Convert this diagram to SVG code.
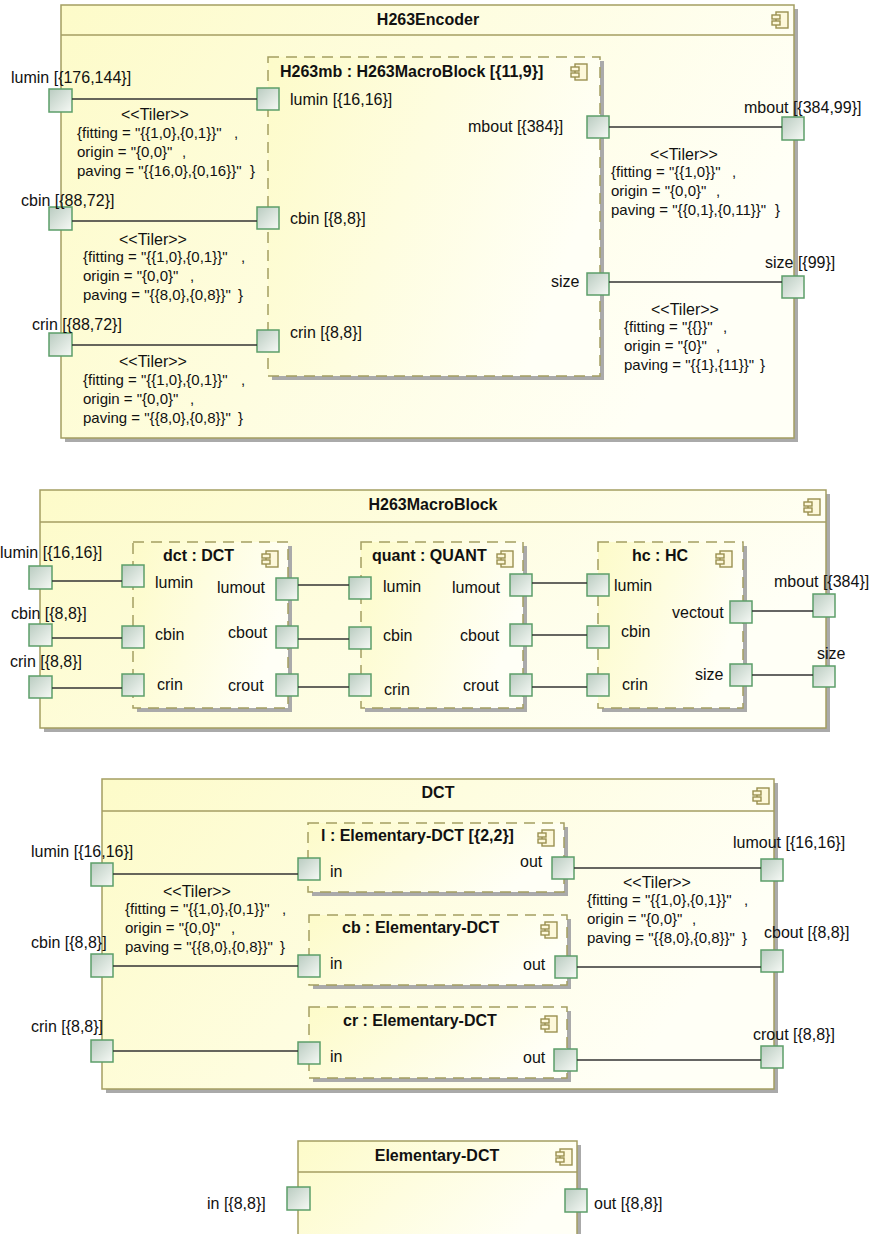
<svg xmlns="http://www.w3.org/2000/svg" width="873" height="1234" viewBox="0 0 873 1234">
<defs>
<linearGradient id="gf" x1="0" y1="0" x2="1" y2="0.35">
<stop offset="0" stop-color="#fdfbc9"/>
<stop offset="1" stop-color="#fffff6"/>
</linearGradient>
<linearGradient id="gp" x1="0" y1="0" x2="1" y2="1">
<stop offset="0" stop-color="#b9cbc0"/>
<stop offset="1" stop-color="#f7faf6"/>
</linearGradient>
<symbol id="ico" viewBox="0 0 18 18" width="18" height="18">
<rect x="5" y="1" width="12" height="16" fill="#fdf8da" stroke="#9a9050" stroke-width="1.4"/>
<rect x="1" y="4" width="8" height="4" fill="#fdf8da" stroke="#9a9050" stroke-width="1.4"/>
<rect x="1" y="10" width="8" height="4" fill="#fdf8da" stroke="#9a9050" stroke-width="1.4"/>
</symbol>
</defs>
<style>
text{font-family:"Liberation Sans",Arial,Helvetica,sans-serif;font-size:16px;fill:#111}
.t{font-weight:bold}
.c{text-anchor:middle}
.v{font-size:15px}
.sh{fill:#aaaaaa}
.fr{fill:url(#gf);stroke:#a49e62;stroke-width:1.5}
.pt{fill:url(#gf);stroke:#a49e62;stroke-width:1.5;stroke-dasharray:11 7}
.hd{fill:none;stroke:#a49e62;stroke-width:1.5}
.p{fill:url(#gp);stroke:#5c9e69;stroke-width:1.5}
.ln{stroke:#333;stroke-width:1.3}
</style>
<rect width="873" height="1234" fill="#ffffff"/>

<!-- ===== Diagram 1: H263Encoder ===== -->
<g id="H263Encoder">
<rect class="sh" x="65" y="9" width="733" height="433"/>
<rect class="fr" x="61" y="5" width="733" height="433"/>
<line class="hd" x1="61" y1="35" x2="794" y2="35"/>
<text class="t c" x="428" y="25">H263Encoder</text>
<use href="#ico" x="771" y="11"/>
</g>
<g id="H263mb">
<rect class="sh" x="272" y="61" width="332" height="319"/>
<rect class="pt" x="268" y="57" width="332" height="319"/>
<text class="t" x="280" y="77">H263mb : H263MacroBlock [{11,9}]</text>
<use href="#ico" x="570" y="63"/>
</g>
<g id="enc-ports">
<rect class="p" x="49" y="89" width="23" height="23"/>
<text x="11" y="83">lumin [{176,144}]</text>
<rect class="p" x="257" y="88" width="22" height="22"/>
<text x="290" y="105">lumin [{16,16}]</text>
<rect class="p" x="49" y="207" width="23" height="23"/>
<text x="21" y="206">cbin [{88,72}]</text>
<rect class="p" x="257" y="207" width="22" height="22"/>
<text x="290" y="224">cbin [{8,8}]</text>
<rect class="p" x="49" y="333" width="23" height="23"/>
<text x="32" y="330">crin [{88,72}]</text>
<rect class="p" x="257" y="330" width="22" height="22"/>
<text x="290" y="338">crin [{8,8}]</text>
<rect class="p" x="587" y="116" width="22" height="22"/>
<text x="468" y="132">mbout [{384}]</text>
<rect class="p" x="782" y="117" width="22" height="23"/>
<text x="744" y="113">mbout [{384,99}]</text>
<rect class="p" x="587" y="273" width="22" height="22"/>
<text x="551" y="287">size</text>
<rect class="p" x="782" y="276" width="22" height="22"/>
<text x="765" y="268">size [{99}]</text>
</g>

<!-- ===== Diagram 2: H263MacroBlock ===== -->
<g id="H263MacroBlock">
<rect class="sh" x="44" y="494" width="786" height="238"/>
<rect class="fr" x="40" y="490" width="786" height="238"/>
<line class="hd" x1="40" y1="522" x2="826" y2="522"/>
<text class="t c" x="433" y="510">H263MacroBlock</text>
<use href="#ico" x="803" y="498"/>
</g>
<g id="dct">
<rect class="sh" x="137" y="546" width="155" height="166"/>
<rect class="pt" x="133" y="542" width="155" height="166"/>
<text class="t" x="163" y="561">dct : DCT</text>
<use href="#ico" x="261" y="550"/>
<rect class="p" x="122" y="565" width="22" height="22"/>
<text x="155" y="588">lumin</text>
<rect class="p" x="122" y="626" width="22" height="22"/>
<text x="155" y="640">cbin</text>
<rect class="p" x="122" y="674" width="22" height="22"/>
<text x="157" y="690">crin</text>
<rect class="p" x="276" y="578" width="22" height="22"/>
<text x="217" y="593">lumout</text>
<rect class="p" x="276" y="626" width="22" height="22"/>
<text x="228" y="638">cbout</text>
<rect class="p" x="276" y="674" width="22" height="22"/>
<text x="228" y="691">crout</text>
</g>
<g id="quant">
<rect class="sh" x="365" y="546" width="162" height="166"/>
<rect class="pt" x="361" y="542" width="162" height="166"/>
<text class="t" x="372" y="561">quant : QUANT</text>
<use href="#ico" x="496" y="550"/>
<rect class="p" x="349" y="577" width="22" height="22"/>
<text x="383" y="592">lumin</text>
<rect class="p" x="349" y="627" width="22" height="22"/>
<text x="383" y="641">cbin</text>
<rect class="p" x="349" y="674" width="22" height="22"/>
<text x="384" y="695">crin</text>
<rect class="p" x="510" y="574" width="22" height="22"/>
<text x="452" y="593">lumout</text>
<rect class="p" x="510" y="624" width="22" height="22"/>
<text x="460" y="641">cbout</text>
<rect class="p" x="510" y="674" width="22" height="22"/>
<text x="463" y="691">crout</text>
</g>
<g id="hc">
<rect class="sh" x="602" y="546" width="145" height="166"/>
<rect class="pt" x="598" y="542" width="145" height="166"/>
<text class="t" x="632" y="561">hc : HC</text>
<use href="#ico" x="715" y="550"/>
<rect class="p" x="587" y="574" width="22" height="22"/>
<text x="614" y="591">lumin</text>
<rect class="p" x="587" y="626" width="22" height="22"/>
<text x="621" y="637">cbin</text>
<rect class="p" x="587" y="674" width="22" height="22"/>
<text x="622" y="690">crin</text>
<rect class="p" x="730" y="601" width="22" height="22"/>
<text x="672" y="618">vectout</text>
<rect class="p" x="730" y="664" width="22" height="22"/>
<text x="695" y="680">size</text>
</g>
<g id="mb-ports">
<rect class="p" x="29" y="566" width="23" height="23"/>
<text x="0" y="558">lumin [{16,16}]</text>
<rect class="p" x="29" y="624" width="23" height="22"/>
<text x="11" y="619">cbin [{8,8}]</text>
<rect class="p" x="29" y="676" width="23" height="22"/>
<text x="10" y="667">crin [{8,8}]</text>
<rect class="p" x="813" y="594" width="22" height="23"/>
<text x="774" y="587">mbout [{384}]</text>
<rect class="p" x="813" y="666" width="22" height="21"/>
<text x="817" y="659">size</text>
</g>

<!-- ===== Diagram 3: DCT ===== -->
<g id="DCT">
<rect class="sh" x="106" y="783" width="672" height="310"/>
<rect class="fr" x="102" y="779" width="672" height="310"/>
<line class="hd" x1="102" y1="811" x2="774" y2="811"/>
<text class="t c" x="438" y="798">DCT</text>
<use href="#ico" x="752" y="787"/>
</g>
<g id="l">
<rect class="sh" x="312" y="827" width="256" height="69"/>
<rect class="pt" x="308" y="823" width="256" height="69"/>
<text class="t" x="321" y="841">l : Elementary-DCT [{2,2}]</text>
<use href="#ico" x="537" y="829"/>
<rect class="p" x="298" y="858" width="22" height="22"/>
<text x="330" y="877">in</text>
<rect class="p" x="552" y="857" width="22" height="22"/>
<text x="520" y="867">out</text>
</g>
<g id="cb">
<rect class="sh" x="313" y="919" width="258" height="70"/>
<rect class="pt" x="309" y="915" width="258" height="70"/>
<text class="t" x="342" y="933">cb : Elementary-DCT</text>
<use href="#ico" x="540" y="921"/>
<rect class="p" x="298" y="955" width="22" height="22"/>
<text x="330" y="969">in</text>
<rect class="p" x="555" y="956" width="22" height="22"/>
<text x="523" y="970">out</text>
</g>
<g id="cr">
<rect class="sh" x="313" y="1011" width="258" height="71"/>
<rect class="pt" x="309" y="1007" width="258" height="71"/>
<text class="t" x="343" y="1026">cr : Elementary-DCT</text>
<use href="#ico" x="540" y="1015"/>
<rect class="p" x="298" y="1042" width="22" height="22"/>
<text x="330" y="1062">in</text>
<rect class="p" x="554" y="1049" width="23" height="22"/>
<text x="523" y="1063">out</text>
</g>
<g id="dct-ports">
<rect class="p" x="91" y="863" width="22" height="23"/>
<text x="31" y="857">lumin [{16,16}]</text>
<rect class="p" x="91" y="954" width="22" height="23"/>
<text x="31" y="948">cbin [{8,8}]</text>
<rect class="p" x="91" y="1040" width="22" height="22"/>
<text x="31" y="1032">crin [{8,8}]</text>
<rect class="p" x="761" y="859" width="22" height="22"/>
<text x="733" y="848">lumout [{16,16}]</text>
<rect class="p" x="761" y="950" width="22" height="22"/>
<text x="764" y="938">cbout [{8,8}]</text>
<rect class="p" x="761" y="1046" width="22" height="22"/>
<text x="753" y="1040">crout [{8,8}]</text>
</g>

<!-- ===== Diagram 4: Elementary-DCT ===== -->
<g id="Elementary-DCT">
<rect class="sh" x="302" y="1145" width="279" height="100"/>
<rect class="fr" x="298" y="1141" width="279" height="100"/>
<line class="hd" x1="298" y1="1172" x2="577" y2="1172"/>
<text class="t c" x="437" y="1161">Elementary-DCT</text>
<use href="#ico" x="555" y="1148"/>
<rect class="p" x="287" y="1187" width="23" height="23"/>
<text x="207" y="1209">in [{8,8}]</text>
<rect class="p" x="565" y="1189" width="22" height="23"/>
<text x="594" y="1209">out [{8,8}]</text>
</g>

<!-- ===== Connectors ===== -->
<g id="connectors">
<line class="ln" x1="72" y1="99" x2="257" y2="99"/>
<line class="ln" x1="72" y1="221" x2="257" y2="221"/>
<line class="ln" x1="72" y1="345" x2="257" y2="345"/>
<line class="ln" x1="609" y1="127" x2="782" y2="127"/>
<line class="ln" x1="609" y1="282" x2="782" y2="282"/>

<line class="ln" x1="52" y1="581" x2="122" y2="581"/>
<line class="ln" x1="52" y1="638" x2="122" y2="638"/>
<line class="ln" x1="52" y1="688" x2="122" y2="688"/>
<line class="ln" x1="298" y1="585" x2="349" y2="585"/>
<line class="ln" x1="298" y1="639" x2="349" y2="639"/>
<line class="ln" x1="298" y1="687" x2="349" y2="687"/>
<line class="ln" x1="532" y1="583" x2="587" y2="583"/>
<line class="ln" x1="532" y1="635" x2="587" y2="635"/>
<line class="ln" x1="532" y1="687" x2="587" y2="687"/>
<line class="ln" x1="752" y1="611" x2="813" y2="611"/>
<line class="ln" x1="752" y1="675" x2="813" y2="675"/>

<line class="ln" x1="113" y1="874" x2="298" y2="874"/>
<line class="ln" x1="113" y1="966" x2="298" y2="966"/>
<line class="ln" x1="113" y1="1051" x2="298" y2="1051"/>
<line class="ln" x1="574" y1="868" x2="761" y2="868"/>
<line class="ln" x1="577" y1="967" x2="761" y2="967"/>
<line class="ln" x1="577" y1="1060" x2="761" y2="1060"/>

<!-- Tiler labels -->
<g id="tiler-enc-lumin">
<text x="121" y="120">&lt;&lt;Tiler&gt;&gt;</text>
<text class="v" x="77" y="138">{fitting = "{{1,0},{0,1}}"</text><text class="v" x="234" y="138">,</text>
<text class="v" x="77" y="157">origin = "{0,0}"</text><text class="v" x="182" y="157">,</text>
<text class="v" x="77" y="176">paving = "{{16,0},{0,16}}"</text><text class="v" x="250" y="176">}</text>
</g>
<g id="tiler-enc-cbin">
<text x="119" y="245">&lt;&lt;Tiler&gt;&gt;</text>
<text class="v" x="83" y="262">{fitting = "{{1,0},{0,1}}"</text><text class="v" x="241" y="262">,</text>
<text class="v" x="83" y="281">origin = "{0,0}"</text><text class="v" x="190" y="281">,</text>
<text class="v" x="83" y="300">paving = "{{8,0},{0,8}}"</text><text class="v" x="238" y="300">}</text>
</g>
<g id="tiler-enc-crin">
<text x="119" y="367">&lt;&lt;Tiler&gt;&gt;</text>
<text class="v" x="83" y="385">{fitting = "{{1,0},{0,1}}"</text><text class="v" x="241" y="385">,</text>
<text class="v" x="83" y="404">origin = "{0,0}"</text><text class="v" x="190" y="404">,</text>
<text class="v" x="83" y="423">paving = "{{8,0},{0,8}}"</text><text class="v" x="238" y="423">}</text>
</g>
<g id="tiler-enc-mbout">
<text x="650" y="160">&lt;&lt;Tiler&gt;&gt;</text>
<text class="v" x="611" y="177">{fitting = "{{1,0}}"</text><text class="v" x="732" y="177">,</text>
<text class="v" x="611" y="196">origin = "{0,0}"</text><text class="v" x="716" y="196">,</text>
<text class="v" x="611" y="215">paving = "{{0,1},{0,11}}"</text><text class="v" x="775" y="215">}</text>
</g>
<g id="tiler-enc-size">
<text x="651" y="315">&lt;&lt;Tiler&gt;&gt;</text>
<text class="v" x="624" y="332">{fitting = "{{}}"</text><text class="v" x="723" y="332">,</text>
<text class="v" x="624" y="351">origin = "{0}"</text><text class="v" x="716" y="351">,</text>
<text class="v" x="624" y="370">paving = "{{1},{11}}"</text><text class="v" x="760" y="370">}</text>
</g>
<g id="tiler-dct-in">
<text x="163" y="897">&lt;&lt;Tiler&gt;&gt;</text>
<text class="v" x="125" y="914">{fitting = "{{1,0},{0,1}}"</text><text class="v" x="282" y="914">,</text>
<text class="v" x="125" y="933">origin = "{0,0}"</text><text class="v" x="231" y="933">,</text>
<text class="v" x="125" y="952">paving = "{{8,0},{0,8}}"</text><text class="v" x="280" y="952">}</text>
</g>
<g id="tiler-dct-out">
<text x="623" y="888">&lt;&lt;Tiler&gt;&gt;</text>
<text class="v" x="587" y="905">{fitting = "{{1,0},{0,1}}"</text><text class="v" x="744" y="905">,</text>
<text class="v" x="587" y="924">origin = "{0,0}"</text><text class="v" x="692" y="924">,</text>
<text class="v" x="587" y="943">paving = "{{8,0},{0,8}}"</text><text class="v" x="742" y="943">}</text>
</g>
</g>
</svg>
